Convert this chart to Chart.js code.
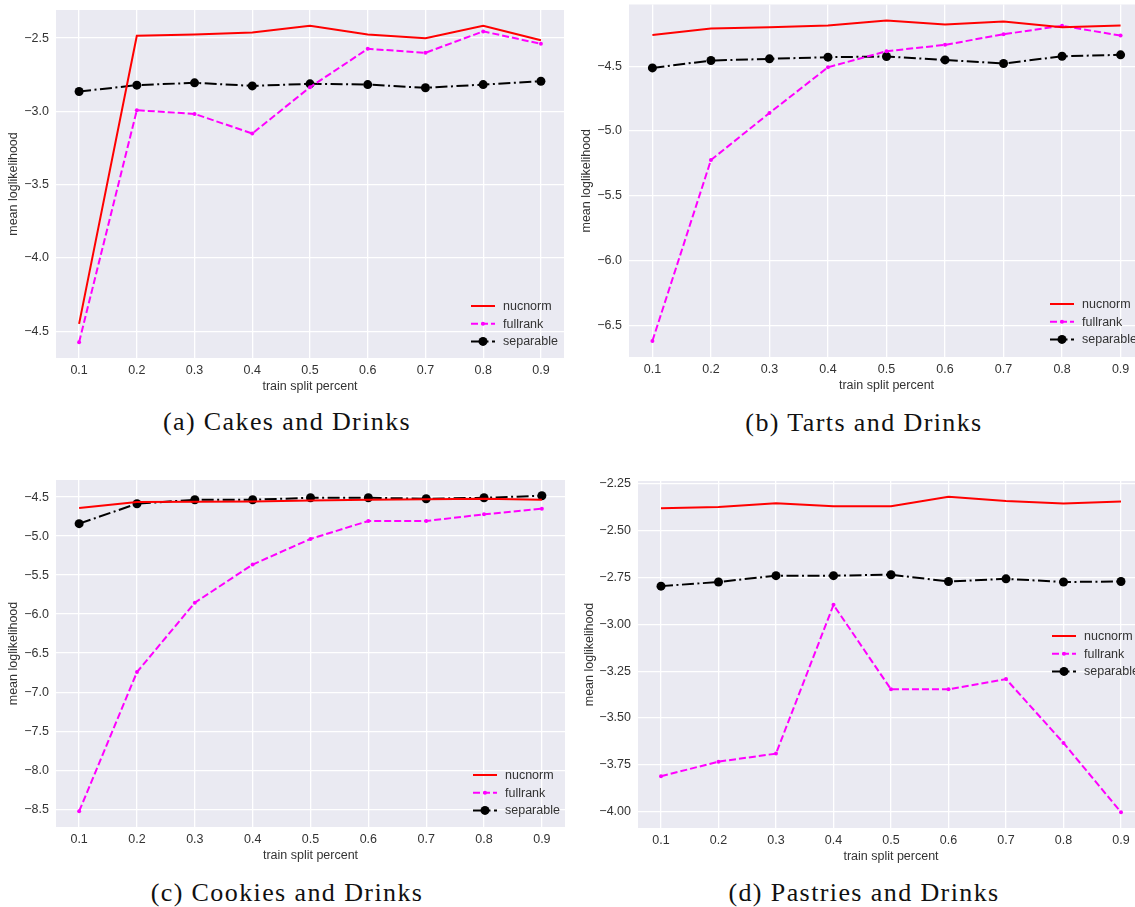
<!DOCTYPE html>
<html>
<head>
<meta charset="utf-8">
<script src="https://cdn.jsdelivr.net/npm/chart.js@4.4.1/dist/chart.umd.min.js"></script>
<style>
  html, body { margin: 0; padding: 0; background: #fff; width: 1135px; height: 907px; overflow: hidden; }
  canvas { position: absolute; }
  .cap {
    position: absolute; white-space: nowrap; transform: translate(-50%, -50%);
    font-family: "Liberation Serif", "DejaVu Serif", serif; font-size: 26px; letter-spacing: 1.4px; color: #111;
  }
</style>
</head>
<body>
<canvas id="cakes" width="570" height="400" style="left:0;top:0"></canvas>
<canvas id="tarts" width="600" height="400" style="left:572px;top:0"></canvas>
<canvas id="cookies" width="570" height="400" style="left:0;top:470px"></canvas>
<canvas id="pastries" width="600" height="400" style="left:572px;top:470px"></canvas>

<div class="cap" style="left:287px;top:422px">(a) Cakes and Drinks</div>
<div class="cap" style="left:864px;top:423px">(b) Tarts and Drinks</div>
<div class="cap" style="left:287px;top:893px">(c) Cookies and Drinks</div>
<div class="cap" style="left:864px;top:893px">(d) Pastries and Drinks</div>

<script>
// Train split fractions (x axis) and tick positions
const splits = [0.1, 0.2, 0.3, 0.4, 0.5, 0.6, 0.7, 0.8, 0.9];
const xTicks = [0.1, 0.2, 0.3, 0.4, 0.5, 0.6, 0.7, 0.8, 0.9];

// Series names
const seriesNames = ['nucnorm', 'fullrank', 'separable'];

// (a) Cakes and Drinks
const cakesNucnorm   = [-4.45, -2.484, -2.475, -2.461, -2.416, -2.475, -2.500, -2.416, -2.514];
const cakesFullrank  = [-4.575, -2.992, -3.017, -3.151, -2.835, -2.573, -2.600, -2.454, -2.539];
const cakesSeparable = [-2.864, -2.821, -2.805, -2.826, -2.812, -2.817, -2.839, -2.817, -2.794];
const cakesYTicks    = [-4.5, -4.0, -3.5, -3.0, -2.5];

// (b) Tarts and Drinks
const tartsNucnorm   = [-4.258, -4.209, -4.198, -4.186, -4.147, -4.178, -4.155, -4.198, -4.186];
const tartsFullrank  = [-6.621, -5.224, -4.861, -4.508, -4.384, -4.335, -4.253, -4.188, -4.263];
const tartsSeparable = [-4.513, -4.456, -4.443, -4.430, -4.425, -4.451, -4.479, -4.423, -4.412];
const tartsYTicks    = [-6.5, -6.0, -5.5, -5.0, -4.5];

// (c) Cookies and Drinks
const cookiesNucnorm   = [-4.640, -4.564, -4.560, -4.555, -4.543, -4.534, -4.526, -4.521, -4.534];
const cookiesFullrank  = [-8.526, -6.743, -5.853, -5.364, -5.036, -4.806, -4.806, -4.721, -4.649];
const cookiesSeparable = [-4.840, -4.585, -4.534, -4.534, -4.509, -4.509, -4.521, -4.509, -4.483];
const cookiesYTicks    = [-8.5, -8.0, -7.5, -7.0, -6.5, -6.0, -5.5, -5.0, -4.5];

// (d) Pastries and Drinks
const pastriesNucnorm   = [-2.380, -2.373, -2.353, -2.369, -2.369, -2.319, -2.342, -2.355, -2.344];
const pastriesFullrank  = [-3.811, -3.733, -3.690, -2.896, -3.347, -3.347, -3.292, -3.633, -4.003];
const pastriesSeparable = [-2.796, -2.774, -2.740, -2.740, -2.735, -2.771, -2.757, -2.774, -2.771];
const pastriesYTicks    = [-4.00, -3.75, -3.50, -3.25, -3.00, -2.75, -2.50, -2.25];

const SANS = '"Liberation Sans", Arial, sans-serif';
const TEXT = '#333333';

// Axis limits padded by 5% of the data range on each side
function paddedRange(values) {
  const lo = Math.min(...values), hi = Math.max(...values);
  const m = (hi - lo) * 0.05;
  return [lo - m, hi + m];
}

function fmt(v, dec) {
  return (v < 0 ? '\u2212' : '') + Math.abs(v).toFixed(dec);
}

// Seaborn-like grey plotting area
const panelBackground = {
  id: 'panelBackground',
  beforeDraw(chart) {
    const { ctx, chartArea: a } = chart;
    ctx.save();
    ctx.fillStyle = '#EAEAF2';
    ctx.fillRect(a.left, a.top, a.right - a.left, a.bottom - a.top);
    ctx.restore();
  }
};

// Legend with line samples (dash pattern + marker), drawn inside the axes
const lineLegend = {
  id: 'lineLegend',
  afterDatasetsDraw(chart, args, opts) {
    const { ctx, chartArea: a } = chart;
    const x0 = a.right - opts.fromRight;
    let y = opts.fromTop != null ? a.top + opts.fromTop : a.bottom - opts.fromBottom;
    ctx.save();
    chart.data.datasets.forEach(ds => {
      ctx.setLineDash(ds.borderDash || []);
      ctx.strokeStyle = ds.borderColor;
      ctx.lineWidth = ds.borderWidth;
      ctx.beginPath();
      ctx.moveTo(x0, y);
      ctx.lineTo(x0 + 24, y);
      ctx.stroke();
      ctx.setLineDash([]);
      if (ds.pointRadius > 0) {
        ctx.fillStyle = ds.pointBackgroundColor;
        ctx.beginPath();
        ctx.arc(x0 + 12, y, ds.pointRadius, 0, Math.PI * 2);
        ctx.fill();
      }
      ctx.fillStyle = TEXT;
      ctx.font = '12.5px ' + SANS;
      ctx.textBaseline = 'middle';
      ctx.textAlign = 'left';
      ctx.fillText(ds.label, x0 + 32, y + 0.5);
      y += 17.7;
    });
    ctx.restore();
  }
};

function makePanel(id, nuc, full, sep, yTicks, dec, geom) {
  const pts = vals => splits.map((x, i) => ({ x, y: vals[i] }));
  const [xMin, xMax] = paddedRange(splits);
  const [yMin, yMax] = paddedRange([...nuc, ...full, ...sep]);
  new Chart(document.getElementById(id), {
    type: 'line',
    data: {
      datasets: [
        { label: seriesNames[0], data: pts(nuc), borderColor: '#FF0000', backgroundColor: '#FF0000',
          borderWidth: 2, pointRadius: 0, pointHoverRadius: 0, tension: 0 },
        { label: seriesNames[1], data: pts(full), borderColor: '#FF00FF', backgroundColor: '#FF00FF',
          borderWidth: 2, borderDash: [7, 3], pointRadius: 2, pointBorderWidth: 0,
          pointBackgroundColor: '#FF00FF', tension: 0 },
        { label: seriesNames[2], data: pts(sep), borderColor: '#000000', backgroundColor: '#000000',
          borderWidth: 2, borderDash: [12, 3.5, 2, 3.5], pointRadius: 4.5, pointBorderWidth: 0,
          pointBackgroundColor: '#000000', tension: 0 }
      ]
    },
    options: {
      responsive: false,
      animation: false,
      devicePixelRatio: 1,
      events: [],
      layout: { padding: { top: geom.top, right: geom.right, bottom: geom.bottom, left: 0 } },
      plugins: {
        legend: { display: false },
        tooltip: { enabled: false },
        lineLegend: geom.legend
      },
      scales: {
        x: {
          type: 'linear', min: xMin, max: xMax,
          afterBuildTicks: s => { s.ticks = xTicks.map(v => ({ value: v })); },
          afterFit: s => { s.height = 36; s.paddingLeft = 0; s.paddingRight = 0; },
          grid: { color: '#FFFFFF', lineWidth: 1.3, drawTicks: false },
          border: { display: false },
          ticks: { color: TEXT, font: { family: SANS, size: 12.5 }, padding: 5,
                   maxRotation: 0, autoSkip: false, callback: v => v.toFixed(1) },
          title: { display: true, text: 'train split percent', color: TEXT,
                   font: { family: SANS, size: 12.5 }, padding: { top: 0, bottom: 0 } }
        },
        y: {
          type: 'linear', min: yMin, max: yMax,
          afterBuildTicks: s => { s.ticks = yTicks.map(v => ({ value: v })); },
          afterFit: s => { s.width = geom.yWidth; s.paddingTop = 0; s.paddingBottom = 0; },
          grid: { color: '#FFFFFF', lineWidth: 1.3, drawTicks: false },
          border: { display: false },
          ticks: { color: TEXT, font: { family: SANS, size: 12.5 }, padding: 7,
                   autoSkip: false, callback: v => fmt(v, dec) },
          title: { display: true, text: 'mean loglikelihood', color: TEXT,
                   font: { family: SANS, size: 12.5 }, padding: { top: geom.yTitlePad, bottom: 0 } }
        }
      }
    },
    plugins: [panelBackground, lineLegend]
  });
}

makePanel('cakes', cakesNucnorm, cakesFullrank, cakesSeparable, cakesYTicks, 1,
  { top: 10, right: 6, bottom: 6, yWidth: 56, yTitlePad: 6.5, legend: { fromRight: 93, fromBottom: 52 } });
makePanel('tarts', tartsNucnorm, tartsFullrank, tartsSeparable, tartsYTicks, 1,
  { top: 4, right: 28, bottom: 7, yWidth: 57, yTitlePad: 7.5, legend: { fromRight: 94, fromBottom: 53 } });
makePanel('cookies', cookiesNucnorm, cookiesFullrank, cookiesSeparable, cookiesYTicks, 1,
  { top: 10, right: 5, bottom: 7, yWidth: 56, yTitlePad: 6.5, legend: { fromRight: 92, fromBottom: 52 } });
makePanel('pastries', pastriesNucnorm, pastriesFullrank, pastriesSeparable, pastriesYTicks, 2,
  { top: 11, right: 28, bottom: 6, yWidth: 66, yTitlePad: 10.5, legend: { fromRight: 92, fromTop: 155 } });
</script>
</body>
</html>
